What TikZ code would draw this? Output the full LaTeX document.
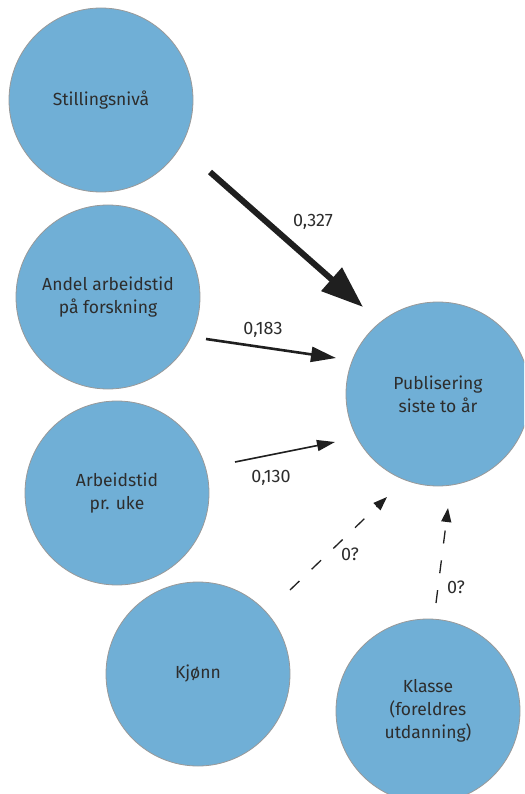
\documentclass[tikz,border=0pt]{standalone}
\usepackage{fontspec}
\setmainfont{Fira Sans}
\usetikzlibrary{arrows.meta}
\definecolor{bub}{RGB}{112,175,214}
\definecolor{txt}{RGB}{45,45,45}
\tikzset{
  bubble/.style={circle, fill=bub, draw=black!40, line width=0.8pt, minimum size=184pt, inner sep=0pt, align=center, text=txt, font=\fontsize{17.5pt}{23pt}\selectfont},
  lbl/.style={text=txt, font=\fontsize{18pt}{20pt}\selectfont, inner sep=0pt},
  strong/.style={line width=6pt, -{Triangle[length=42pt,width=30pt]}, color=black!88},
  mid/.style={line width=2.6pt, -{Triangle[length=25pt,width=15pt]}, color=black!88},
  weak/.style={line width=1.6pt, -{Triangle[length=18pt,width=11pt]}, color=black!88},
  hyp/.style={line width=1.3pt, dash pattern=on 13pt off 17pt, -{Triangle[length=14pt,width=10pt]}, color=black!88},
}
\begin{document}
\begin{tikzpicture}[x=1pt,y=-1pt]
\useasboundingbox (0,0) rectangle (524,794);
\begin{scope}
\clip (0,0) rectangle (524,794);
\node[bubble] (stil) at (101,100) {Stillingsnivå};
\node[bubble] (andel) at (108,297) {Andel arbeidstid\\på forskning};
\node[bubble] (tid) at (117,493) {Arbeidstid\\pr. uke};
\node[bubble] (pub) at (438,394) {Publisering\\siste to år};
\node[bubble] (kjonn) at (198,674) {Kjønn};
\node[bubble] (klasse) at (428,711) {Klasse\\(foreldres\\utdanning)};
\end{scope}
\coordinate (s1) at (210,172); \coordinate (t1) at (363,307);
\coordinate (s2) at (206,339); \coordinate (t2) at (336,358);
\coordinate (s3) at (235,462); \coordinate (t3) at (335,442);
\coordinate (s4) at (290,590); \coordinate (t4) at (387,497);
\coordinate (s5) at (436,603); \coordinate (t5) at (448,508);
\draw[strong] (s1) -- (t1);
\draw[mid] (s2) -- (t2);
\draw[weak] (s3) -- (t3);
\draw[hyp] (s4) -- (t4);
\draw[hyp] (s5) -- (t5);
\node[lbl] (l1) at (313,222) {0,327};
\node[lbl] (l2) at (263,330) {0,183};
\node[lbl] (l3) at (271,478) {0,130};
\node[lbl] (l4) at (350,554) {0?};
\node[lbl] (l5) at (456,587) {0?};
\end{tikzpicture}
\end{document}
